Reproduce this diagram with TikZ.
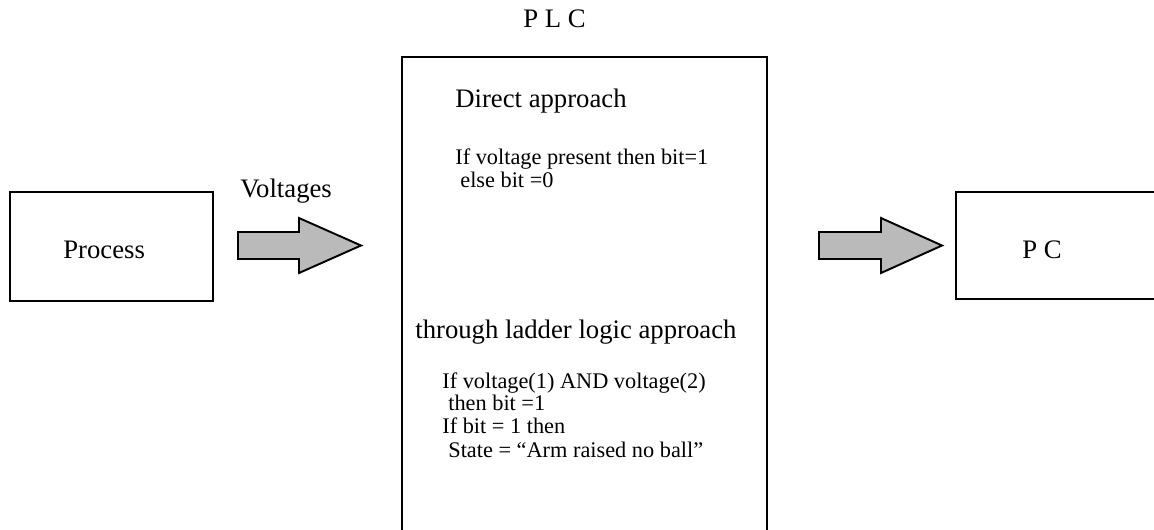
\documentclass[tikz,border=0pt]{standalone}
\usepackage{fontspec}
\setmainfont{Liberation Serif}

\begin{document}
\begin{tikzpicture}[x=0.02cm, y=-0.02cm,
    box/.style={rectangle, draw=black, line width=1.1pt, inner sep=0pt},
    title/.style={font=\fontsize{15.2}{18}\selectfont, inner sep=0pt, anchor=base west},
    body/.style={font=\fontsize{12.7}{15}\selectfont, inner sep=0pt, anchor=base west},
    bigarrow/.style={draw=black, line width=1.1pt, fill=black!27, line join=miter}
    ]
    \useasboundingbox (0,0) rectangle (1154,529);

    % Blocks
    \node (process) [box, minimum width=4.06cm, minimum height=2.18cm] at (111.5,246.5) {};
    \node (plc) [box, minimum width=7.3cm, minimum height=10.06cm] at (584.5,308.5) {};
    \node (pc) [box, minimum width=4.88cm, minimum height=2.14cm] at (1078,245.5) {};

    % Block labels
    \node (processlbl) [title] at (63,258) {Process};
    \node (pclbl) [title] at (1022,258) {P C};
    \node (plclbl) [title] at (523,27) {P L C};
    \node (voltlbl) [title] at (240,197) {Voltages};

    % Inside the PLC
    \node (direct) [title] at (455,107) {Direct approach};
    \node (direct1) [body] at (455,164) {If voltage present then bit=1};
    \node (direct2) [body] at (460,187) {else bit =0};
    \node (ladder) [title] at (415,338) {through ladder logic approach};
    \node (ladder1) [body] at (442,388) {If voltage(1) AND voltage(2)};
    \node (ladder2) [body] at (448,410) {then bit =1};
    \node (ladder3) [body] at (442,433) {If bit = 1 then};
    \node (ladder4) [body] at (448,457) {State = “Arm raised no ball”};

    % Block arrows
    \draw [bigarrow] (238,232) -- (299,232) -- (299,218) -- (361,245.5) -- (299,273) -- (299,259) -- (238,259) -- cycle;
    \draw [bigarrow] (819,232) -- (881,232) -- (881,218) -- (942,245.5) -- (881,273) -- (881,259) -- (819,259) -- cycle;

\end{tikzpicture}
\end{document}
